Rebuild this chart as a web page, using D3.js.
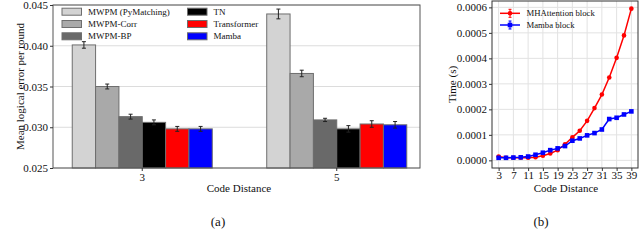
<!DOCTYPE html>
<html>
<head>
<meta charset="utf-8">
<script src="https://cdn.jsdelivr.net/npm/d3@7"></script>
<style>
  body { margin: 0; background: #fff; }
  svg, svg text { font-family: "Liberation Serif", "Times New Roman", serif !important; }
</style>
</head>
<body>
<svg id="chart" width="640" height="250"></svg>
<script>
// ---- data: panel (a) ----
const distances = ["3", "5"];
const decoders = ["MWPM (PyMatching)", "MWPM-Corr", "MWPM-BP", "TN", "Transformer", "Mamba"];
const errD3 = [0.0401, 0.0350, 0.0313, 0.0306, 0.0298, 0.0298];
const errD5 = [0.0439, 0.0366, 0.0309, 0.0298, 0.0304, 0.0303];
const stdD3 = [0.0004, 0.0003, 0.0003, 0.0003, 0.0003, 0.0003];
const stdD5 = [0.0006, 0.0004, 0.0002, 0.0004, 0.0004, 0.0004];
const barTicks = [0.025, 0.030, 0.035, 0.040, 0.045];

// ---- data: panel (b) ----
const codeDist = [3, 5, 7, 9, 11, 13, 15, 17, 19, 21, 23, 25, 27, 29, 31, 33, 35, 37, 39];
const attnTime = [0.000015, 0.000010, 0.000010, 0.000010, 0.000010, 0.000012, 0.000018, 0.000027,
                  0.000040, 0.000063, 0.000090, 0.000116, 0.000155, 0.000205, 0.000258, 0.000325,
                  0.000402, 0.000490, 0.000595];
const mambaTime = [0.000010, 0.000010, 0.000011, 0.000012, 0.000015, 0.000022, 0.000030, 0.000040,
                   0.000047, 0.000056, 0.000077, 0.000086, 0.000098, 0.000107, 0.000121, 0.000162,
                   0.000167, 0.000180, 0.000192];
const distTicks = [3, 7, 11, 15, 19, 23, 27, 31, 35, 39];
const timeTicks = [0, 0.0001, 0.0002, 0.0003, 0.0004, 0.0005, 0.0006];

const colors = ["#d3d3d3", "#a9a9a9", "#696969", "#000000", "#ff0000", "#0000ff"];
const serif = "'Liberation Serif', 'Times New Roman', serif";
const FS = 11;

const svg = d3.select("#chart");

// ================= panel (a) =================
const A = {left: 53, right: 420, top: 5, bottom: 168};
const ya = d3.scaleLinear().domain([0.025, 0.045]).range([A.bottom, A.top]);
const xa = d3.scaleBand().domain(distances).range([A.left + 3, A.right + 3])
  .paddingInner(0.28).paddingOuter(0.0835);
const xi = d3.scaleBand().domain(decoders).range([0, xa.bandwidth()]);

const ga = svg.append("g");

// grid
ga.selectAll("line.grid").data(barTicks).join("line")
  .attr("x1", A.left).attr("x2", A.right)
  .attr("y1", d => ya(d)).attr("y2", d => ya(d))
  .attr("stroke", "#dcdcdc").attr("stroke-width", 1);

const rows = [];
distances.forEach((dist, gi) => {
  const vals = gi === 0 ? errD3 : errD5;
  const sds = gi === 0 ? stdD3 : stdD5;
  decoders.forEach((dec, i) => rows.push({dist, dec, i, v: vals[i], sd: sds[i]}));
});

ga.selectAll("rect.bar").data(rows).join("rect")
  .attr("x", d => xa(d.dist) + xi(d.dec))
  .attr("width", xi.bandwidth())
  .attr("y", d => ya(d.v))
  .attr("height", d => ya(0.025) - ya(d.v))
  .attr("fill", d => colors[d.i])
  .attr("stroke", "#6e6e6e").attr("stroke-width", 1);

// error bars
const eb = ga.selectAll("g.eb").data(rows).join("g")
  .attr("transform", d => `translate(${xa(d.dist) + xi(d.dec) + xi.bandwidth() / 2},0)`)
  .attr("stroke", "#222").attr("stroke-width", 1);
eb.append("line").attr("y1", d => ya(d.v - d.sd)).attr("y2", d => ya(d.v + d.sd));
eb.append("line").attr("x1", -2).attr("x2", 2).attr("y1", d => ya(d.v - d.sd)).attr("y2", d => ya(d.v - d.sd));
eb.append("line").attr("x1", -2).attr("x2", 2).attr("y1", d => ya(d.v + d.sd)).attr("y2", d => ya(d.v + d.sd));

// frame
ga.append("rect").attr("x", A.left).attr("y", A.top)
  .attr("width", A.right - A.left).attr("height", A.bottom - A.top)
  .attr("fill", "none").attr("stroke", "#555").attr("stroke-width", 1);

// axes
const axYa = ga.append("g").attr("transform", `translate(${A.left},0)`)
  .call(d3.axisLeft(ya).tickValues(barTicks).tickFormat(d3.format(".3f")).tickSize(3).tickPadding(2));
const axXa = ga.append("g").attr("transform", `translate(0,${A.bottom})`)
  .call(d3.axisBottom(xa).tickSize(3).tickPadding(2));
[axYa, axXa].forEach(ax => {
  ax.attr("font-family", serif);
  ax.select(".domain").remove();
  ax.selectAll("line").attr("stroke", "#333");
  ax.selectAll("text").attr("font-size", FS).attr("fill", "#111");
});

ga.append("text").attr("transform", `translate(20,${(A.top + A.bottom) / 2}) rotate(-90)`)
  .attr("text-anchor", "middle").attr("dy", "0.35em")
  .attr("font-size", FS).attr("fill", "#111").text("Mean logical error per round");
ga.append("text").attr("x", 239).attr("y", 192)
  .attr("text-anchor", "middle").attr("font-size", FS).attr("fill", "#111").text("Code Distance");
ga.append("text").attr("x", 218).attr("y", 226)
  .attr("text-anchor", "middle").attr("font-size", 13).attr("fill", "#111").text("(a)");

// legend
const leg = ga.append("g");
decoders.forEach((dec, i) => {
  const col = Math.floor(i / 3), row = i % 3;
  const g = leg.append("g").attr("transform", `translate(${62 + col * 125.5},${11.7 + row * 12.3})`);
  g.append("rect").attr("x", 0).attr("y", -3.5).attr("width", 19.5).attr("height", 7)
    .attr("fill", colors[i]).attr("stroke", "#6e6e6e").attr("stroke-width", 1);
  g.append("text").attr("x", 26).attr("dy", "0.35em").attr("font-size", 9)
    .attr("fill", "#111").text(dec);
});

// ================= panel (b) =================
const B = {left: 492, right: 638, top: 1, bottom: 168};
const xb = d3.scaleLinear().domain([1.2, 40.8]).range([B.left, B.right]);
const yb = d3.scaleLinear().domain([-0.00003, 0.000625]).range([B.bottom, B.top]);
const gb = svg.append("g");

gb.selectAll("line.gx").data(distTicks).join("line")
  .attr("x1", d => xb(d)).attr("x2", d => xb(d)).attr("y1", B.top).attr("y2", B.bottom)
  .attr("stroke", "#e2e2e2").attr("stroke-width", 1);
gb.selectAll("line.gy").data(timeTicks).join("line")
  .attr("x1", B.left).attr("x2", B.right).attr("y1", d => yb(d)).attr("y2", d => yb(d))
  .attr("stroke", "#e2e2e2").attr("stroke-width", 1);

const line = d3.line().x((d, i) => xb(codeDist[i])).y(d => yb(d));

gb.append("path").datum(attnTime).attr("d", line)
  .attr("fill", "none").attr("stroke", "#ff0000").attr("stroke-width", 1.5);
gb.selectAll("circle.attn").data(attnTime).join("circle")
  .attr("cx", (d, i) => xb(codeDist[i])).attr("cy", d => yb(d)).attr("r", 2.3)
  .attr("fill", "#ff0000");

gb.append("path").datum(mambaTime).attr("d", line)
  .attr("fill", "none").attr("stroke", "#0000ff").attr("stroke-width", 1.5);
gb.selectAll("rect.mb").data(mambaTime).join("rect")
  .attr("x", (d, i) => xb(codeDist[i]) - 2.3).attr("y", d => yb(d) - 2.3)
  .attr("width", 4.6).attr("height", 4.6).attr("fill", "#0000ff");

gb.append("rect").attr("x", B.left).attr("y", B.top)
  .attr("width", B.right - B.left).attr("height", B.bottom - B.top)
  .attr("fill", "none").attr("stroke", "#333").attr("stroke-width", 1);

const axYb = gb.append("g").attr("transform", `translate(${B.left},0)`)
  .call(d3.axisLeft(yb).tickValues(timeTicks).tickFormat(d3.format(".4f")).tickSize(3).tickPadding(2));
const axXb = gb.append("g").attr("transform", `translate(0,${B.bottom})`)
  .call(d3.axisBottom(xb).tickValues(distTicks).tickFormat(d3.format("d")).tickSize(3).tickPadding(0));
[axYb, axXb].forEach(ax => {
  ax.attr("font-family", serif);
  ax.select(".domain").remove();
  ax.selectAll("line").attr("stroke", "#333");
  ax.selectAll("text").attr("font-size", FS).attr("fill", "#111");
});

gb.append("text").attr("transform", `translate(452,${(B.top + B.bottom) / 2}) rotate(-90)`)
  .attr("text-anchor", "middle").attr("dy", "0.35em")
  .attr("font-size", FS).attr("fill", "#111").text("Time (s)");
gb.append("text").attr("x", 566).attr("y", 191.5)
  .attr("text-anchor", "middle").attr("font-size", FS).attr("fill", "#111").text("Code Distance");
gb.append("text").attr("x", 541).attr("y", 226)
  .attr("text-anchor", "middle").attr("font-size", 13).attr("fill", "#111").text("(b)");

// legend (b)
const legB = [
  {name: "MHAttention block", color: "#ff0000", shape: "circle"},
  {name: "Mamba block", color: "#0000ff", shape: "square"}
];
legB.forEach((d, i) => {
  const g = gb.append("g").attr("transform", `translate(500,${13.3 + i * 11.7})`);
  g.append("line").attr("x1", 0).attr("x2", 20).attr("stroke", d.color).attr("stroke-width", 1.5);
  g.append("line").attr("x1", 10).attr("x2", 10).attr("y1", -4).attr("y2", 4).attr("stroke", d.color).attr("stroke-width", 1);
  g.append("line").attr("x1", 8.5).attr("x2", 11.5).attr("y1", -4).attr("y2", -4).attr("stroke", d.color);
  g.append("line").attr("x1", 8.5).attr("x2", 11.5).attr("y1", 4).attr("y2", 4).attr("stroke", d.color);
  if (d.shape === "circle") g.append("circle").attr("cx", 10).attr("r", 2.3).attr("fill", d.color);
  else g.append("rect").attr("x", 7.7).attr("y", -2.3).attr("width", 4.6).attr("height", 4.6).attr("fill", d.color);
  g.append("text").attr("x", 26.5).attr("dy", "0.35em").attr("font-size", 8.7).attr("fill", "#111").text(d.name);
});

// caption, cut by the bottom edge in the reference
svg.append("text").attr("x", 0).attr("y", 259).attr("font-size", 13).attr("fill", "#222")
  .text("Figure 3: (a) Logical error rate comparison of decoders on the Sycamore data. (b) Comparison of block run time.");
</script>
</body>
</html>
